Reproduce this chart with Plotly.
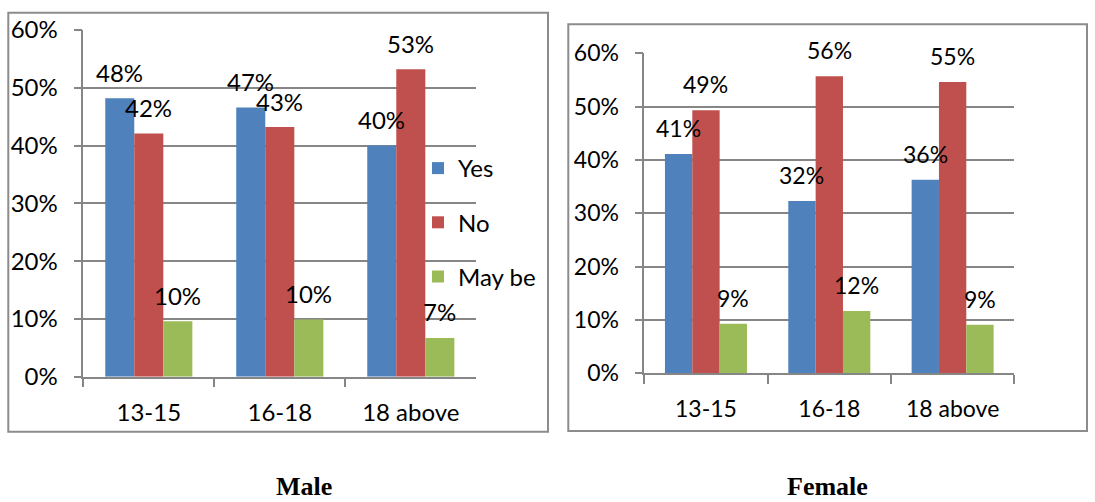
import plotly.graph_objects as go

# ---- data ----
categories = ["13-15", "16-18", "18 above"]
series_names = ["Yes", "No", "May be"]
male_yes = [48.2, 46.6, 40.0]
male_no = [42.1, 43.2, 53.2]
male_maybe = [9.6, 9.9, 6.7]
female_yes = [41.1, 32.3, 36.3]
female_no = [49.3, 55.7, 54.6]
female_maybe = [9.3, 11.7, 9.1]
y_ticks = [0, 10, 20, 30, 40, 50, 60]
panel_titles = ["Male", "Female"]

colors = ["#4F81BD", "#C0504D", "#9BBB59"]
GRID = "#868686"
BORDER = "#8C8C8C"
W, H = 1095, 502
BARGAP = 0.335


def px(x):
    return x / W


def py(y):
    return 1 - y / H


fig = go.Figure()
panels = [
    ([male_yes, male_no, male_maybe], "x", "y", True, 24),
    ([female_yes, female_no, female_maybe], "x2", "y2", False, 23),
]
annotations = []
bw = (1 - BARGAP) / 3
for series, xa, ya, show_leg, fs in panels:
    for j, (name, vals) in enumerate(zip(series_names, series)):
        fig.add_trace(go.Bar(
            x=categories, y=vals, name=name, marker_color=colors[j],
            marker_line_width=0, xaxis=xa, yaxis=ya, legendgroup=name,
            showlegend=show_leg, hoverinfo="skip",
        ))
        for i, v in enumerate(vals):
            annotations.append(dict(
                xref=xa, yref=ya, x=i + (j - 1) * bw, y=v,
                text=f"{round(v)}%", showarrow=False, yanchor="middle",
                xanchor="center", yshift=26,
                font=dict(family="Lato", size=fs, color="black"),
            ))

for k, (title, cx) in enumerate(zip(panel_titles, [303.5, 827.5])):
    annotations.append(dict(
        xref="paper", yref="paper", x=px(cx), y=py(486), text=f"<b>{title}</b>",
        showarrow=False, xanchor="center", yanchor="middle",
        font=dict(family="Liberation Serif", size=26, color="black"),
    ))

shapes = [
    dict(type="rect", xref="paper", yref="paper", x0=px(8.3), x1=px(548),
         y0=py(431.7), y1=py(12.7), line=dict(color=BORDER, width=2)),
    dict(type="rect", xref="paper", yref="paper", x0=px(568.3), x1=px(1087),
         y0=py(431), y1=py(24.3), line=dict(color=BORDER, width=2)),
]


def xaxis(dom, anchor, fs):
    return dict(domain=dom, anchor=anchor, type="category", tickson="boundaries",
                ticks="outside", ticklen=9, tickcolor=GRID, tickwidth=1.5,
                showline=True, linecolor=GRID, linewidth=1.5, showgrid=False,
                tickfont=dict(family="Lato", size=fs, color="black"),
                ticklabelstandoff=14, fixedrange=True, automargin=False)


def yaxis(dom, anchor, fs):
    return dict(domain=dom, anchor=anchor, range=[0, 60], tickmode="array",
                tickvals=y_ticks, ticktext=[f"{t}%" for t in y_ticks],
                showgrid=True, gridcolor=GRID,
                gridwidth=1.5, ticks="outside", ticklen=8, tickcolor=GRID,
                tickwidth=1.5, showline=True, linecolor=GRID, linewidth=1.5,
                zeroline=False, tickfont=dict(family="Lato", size=fs, color="black"),
                ticklabelstandoff=11, fixedrange=True, automargin=False)


fig.update_layout(
    width=W, height=H, margin=dict(l=0, r=0, t=0, b=0, autoexpand=False),
    paper_bgcolor="white", plot_bgcolor="white",
    barmode="group", bargap=BARGAP, bargroupgap=0,
    xaxis=xaxis([px(83.3), px(476.3)], "y", 24),
    yaxis=yaxis([py(376.7), py(30)], "x", 24),
    xaxis2=xaxis([px(644.3), px(1014.3)], "y2", 23),
    yaxis2=yaxis([py(373.3), py(53.3)], "x2", 23),
    legend=dict(x=px(418), y=py(146), xanchor="left", yanchor="top",
                orientation="v", tracegroupgap=20, bgcolor="rgba(0,0,0,0)",
                font=dict(family="Lato", size=24, color="black")),
    annotations=annotations, shapes=shapes, showlegend=True,
)

fig.write_html("out.html", config={"displayModeBar": False},
               post_script="document.body.style.margin='0';")
